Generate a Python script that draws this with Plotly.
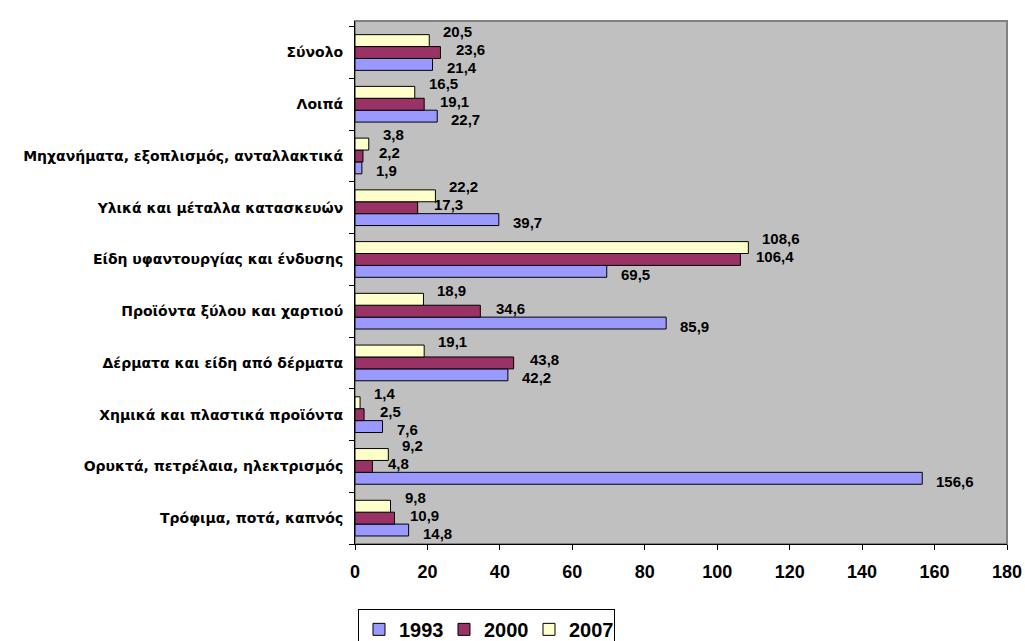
import plotly.graph_objects as go

categories = [
    "Τρόφιμα, ποτά, καπνός",
    "Ορυκτά, πετρέλαια, ηλεκτρισμός",
    "Χημικά και πλαστικά προϊόντα",
    "Δέρματα και είδη από δέρματα",
    "Προϊόντα ξύλου και χαρτιού",
    "Είδη υφαντουργίας και ένδυσης",
    "Υλικά και μέταλλα κατασκευών",
    "Μηχανήματα, εξοπλισμός, ανταλλακτικά",
    "Λοιπά",
    "Σύνολο",
]
series_names = ["1993", "2000", "2007"]
values_1993 = [14.8, 156.6, 7.6, 42.2, 85.9, 69.5, 39.7, 1.9, 22.7, 21.4]
values_2000 = [10.9, 4.8, 2.5, 43.8, 34.6, 106.4, 17.3, 2.2, 19.1, 23.6]
values_2007 = [9.8, 9.2, 1.4, 19.1, 18.9, 108.6, 22.2, 3.8, 16.5, 20.5]
x_ticks = [0, 20, 40, 60, 80, 100, 120, 140, 160, 180]

colors = ["#9999FF", "#993366", "#FFFFCC"]
label_yshift = [-15, 3, 21]
label_xshift = [12, 14, 12]
FONT = "Liberation Sans, Arial, sans-serif"
YFONT = "DejaVu Sans, sans-serif"

fig = go.Figure()
all_vals = [values_1993, values_2000, values_2007]
for name, vals, col in zip(series_names, all_vals, colors):
    fig.add_trace(go.Bar(
        y=categories, x=vals, name=name, orientation="h",
        marker=dict(color=col, line=dict(color="black", width=1)),
        hoverinfo="x+y",
    ))

annotations = []
for vals, ys, xs in zip(all_vals, label_yshift, label_xshift):
    for cat, v in zip(categories, vals):
        annotations.append(dict(
            x=v, y=cat, xref="x", yref="y",
            text="<b>" + f"{v:.1f}".replace(".", ",") + "</b>",
            showarrow=False, xanchor="left", yanchor="middle",
            xshift=xs, yshift=ys,
            font=dict(family=FONT, size=15, color="black"),
        ))

fig.update_layout(
    width=1025, height=641,
    margin=dict(l=355, r=18, t=21, b=97, autoexpand=False),
    paper_bgcolor="white",
    plot_bgcolor="#C0C0C0",
    barmode="group",
    bargap=0.31,
    bargroupgap=0,
    showlegend=True,
    legend=dict(
        orientation="h", x=0.0046, y=-0.124, xanchor="left", yanchor="top",
        font=dict(family=FONT, size=20, color="black", weight="bold"),
        bordercolor="black", borderwidth=1, bgcolor="white",
        traceorder="normal", itemwidth=30, entrywidth=40,
    ),
    annotations=annotations,
    shapes=[dict(type="rect", xref="paper", yref="paper", x0=0, x1=1, y0=0, y1=1,
                 line=dict(color="#808080", width=2), layer="below")],
)
fig.update_xaxes(
    range=[0, 180], tickvals=x_ticks, ticktext=[str(t) for t in x_ticks],
    showgrid=False, zeroline=False, automargin=False,
    showline=True, linecolor="black", linewidth=1,
    ticks="outside", ticklen=5, tickcolor="black",
    tickfont=dict(family=FONT, size=18, color="black", weight="bold"),
    ticklabelstandoff=6,
)
fig.update_yaxes(
    categoryorder="array", categoryarray=categories,
    showgrid=False, zeroline=False, automargin=False,
    showline=True, linecolor="black", linewidth=1,
    ticks="outside", ticklen=5, tickcolor="black", tickson="boundaries",
    tickfont=dict(family=YFONT, size=14, color="black", weight="bold"),
    ticklabelstandoff=8,
)

fig.write_html(
    "out.html",
    config={"displayModeBar": False},
    post_script="document.body.style.margin='0';document.body.style.overflow='hidden';",
)
